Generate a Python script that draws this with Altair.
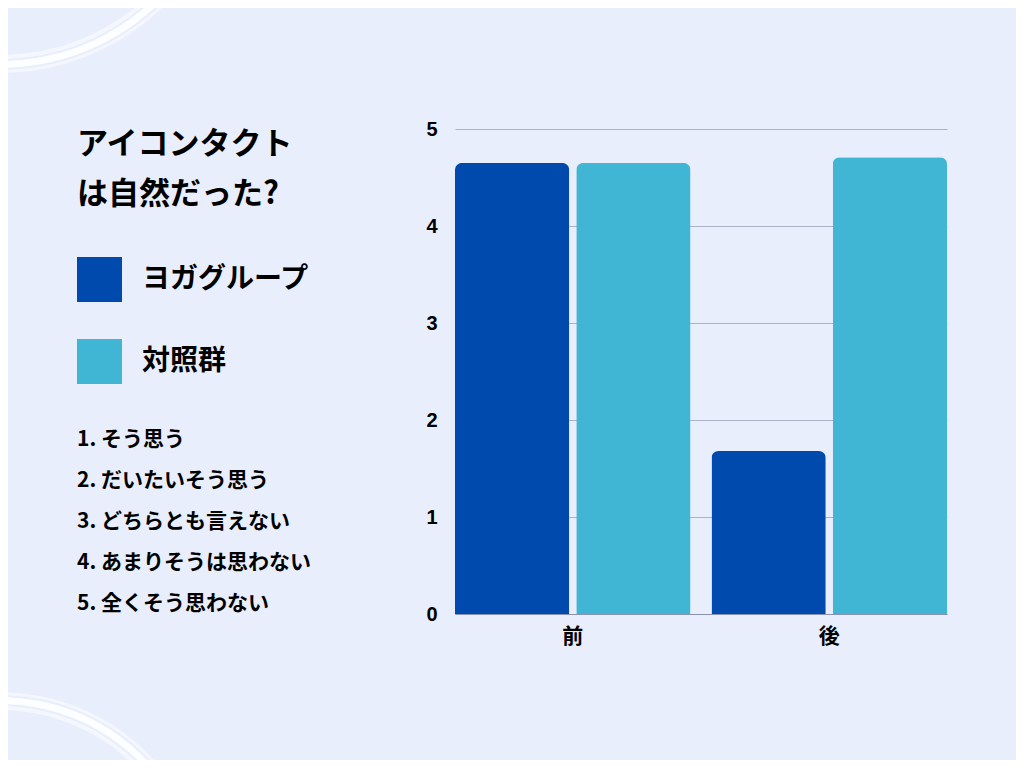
import altair as alt
import pandas as pd

# ---- data ----
periods = ["前", "後"]
groups = ["ヨガグループ", "対照群"]
yoga_scores = [4.65, 1.68]
control_scores = [4.65, 4.71]
y_ticks = [0, 1, 2, 3, 4, 5]
group_colors = ["#004AAD", "#41B6D4"]
title_lines = ["アイコンタクト", "は自然だった?"]
scale_notes = [
    "1. そう思う",
    "2. だいたいそう思う",
    "3. どちらとも言えない",
    "4. あまりそうは思わない",
    "5. 全くそう思わない",
]

BG = "#E9EEFC"
JP = "Noto Sans CJK JP"

df = pd.DataFrame({
    "時期": periods * 2,
    "グループ": [groups[0]] * len(periods) + [groups[1]] * len(periods),
    "スコア": yoga_scores + control_scores,
})

bars = alt.Chart(df).mark_bar(
    cornerRadiusTopLeft=7, cornerRadiusTopRight=7
).encode(
    x=alt.X(
        "時期:N", sort=periods,
        scale=alt.Scale(paddingInner=0.082, paddingOuter=0),
        axis=alt.Axis(title=None, labelAngle=0, ticks=False, grid=False,
                      domain=True, domainColor="#8A93AE", domainWidth=1,
                      labelFont=JP, labelFontSize=21, labelFontWeight="bold",
                      labelColor="black", labelPadding=11),
    ),
    xOffset=alt.XOffset(
        "グループ:N", sort=groups,
        scale=alt.Scale(paddingInner=0.058, paddingOuter=0),
    ),
    y=alt.Y(
        "スコア:Q", scale=alt.Scale(domain=[0, 5], nice=False),
        axis=alt.Axis(values=y_ticks, title=None, domain=False, ticks=False,
                      labelPadding=18, labelFontSize=20, labelFont="Liberation Sans",
                      labelFontWeight="bold", labelColor="black",
                      gridColor="#ADB1C5", gridWidth=1),
    ),
    color=alt.Color(
        "グループ:N", sort=groups,
        scale=alt.Scale(domain=groups, range=group_colors),
        legend=alt.Legend(
            title=None, orient="none", legendX=-378, legendY=128,
            symbolType="square", symbolSize=2025, symbolStrokeWidth=0,
            symbolOpacity=1, labelFontSize=28, labelFont=JP,
            labelFontWeight="bold", labelColor="black", labelOffset=20,
            rowPadding=37, labelLimit=400, padding=0,
        ),
    ),
)

title_df = pd.DataFrame({"t": ["\n".join(title_lines)]})
title_text = alt.Chart(title_df).mark_text(
    align="left", baseline="alphabetic", lineBreak="\n", lineHeight=50,
    font=JP, fontSize=31, fontWeight="bold", color="black",
).encode(x=alt.value(-378), y=alt.value(25), text="t:N")

notes_df = pd.DataFrame({"t": ["\n".join(scale_notes)]})
notes_text = alt.Chart(notes_df).mark_text(
    align="left", baseline="alphabetic", lineBreak="\n", lineHeight=41,
    font=JP, fontSize=21, fontWeight="bold", color="black",
).encode(x=alt.value(-378), y=alt.value(317), text="t:N")

# decorative brush rings (white arcs) in the corners
one = pd.DataFrame({"k": [0]})
ring_specs = [
    # (cx, cy, r_inner, r_outer, theta, theta2, opacity)
    (-455, -290, 216, 220, 1.7, 3.3, 0.55),
    (-455, -290, 222, 229, 1.7, 3.3, 0.9),
    (-455, -290, 231, 234, 1.7, 3.3, 0.5),
    (-455, 771, 190, 194, 0.0, 1.5, 0.55),
    (-455, 771, 196, 203, 0.0, 1.5, 0.9),
    (-455, 771, 205, 208, 0.0, 1.5, 0.5),
]
rings = []
for cx, cy, ri, ro, t1, t2, op in ring_specs:
    rings.append(
        alt.Chart(one).mark_arc(color="white", opacity=op).encode(
            x=alt.value(cx), y=alt.value(cy),
            radius=alt.value(ro), radius2=alt.value(ri),
            theta=alt.value(t1), theta2=alt.value(t2),
        )
    )

chart = alt.layer(*rings, bars, title_text, notes_text).properties(
    width=492, height=485,
    autosize=alt.AutoSizeParams(type="none"),
    padding={"left": 447, "top": 121, "right": 69, "bottom": 146},
    background=BG,
).configure_view(stroke=None)

chart.save("out.html", embed_options={"renderer": "svg", "actions": False})
